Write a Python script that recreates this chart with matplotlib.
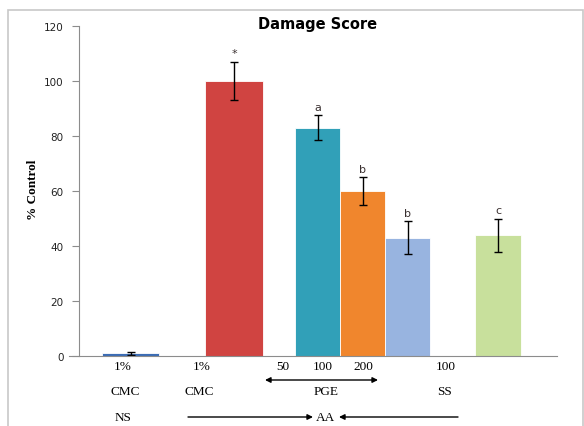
import matplotlib.pyplot as plt
from matplotlib.patches import Rectangle

# data
groups = ["NS", "CMC", "PGE50", "PGE100", "PGE200", "SS"]
values = [1, 100, 83, 60, 43, 44]
errors = [0.5, 7, 4.5, 5, 6, 6]
letters = ["", "*", "a", "b", "b", "c"]
dose_labels = ["1%", "1%", "50", "100", "200", "100"]
name_labels = ["CMC", "CMC", "PGE", "SS"]
yticks = [0, 20, 40, 60, 80, 100, 120]

# layout (1 unit = 45 px)
positions = [0, 2.3, 4.156, 5.156, 6.156, 8.167]
widths = [1.27, 1.27, 1, 1, 1, 1.02]
colors = ["#3B6CB4", "#D04441", "#31A0B8", "#F0862D", "#98B4E0", "#C8E09C"]

W, H = 584, 427
fig = plt.figure(figsize=(W / 100, H / 100), dpi=100)

def fx(px):
    return px / W

def fy(py):
    return 1 - py / H

# outer frame
fig.patches.append(Rectangle((fx(8), fy(440)), fx(575), fy(11) - fy(440),
                             transform=fig.transFigure, fill=False,
                             edgecolor="#c8c8c8", linewidth=1.2))

ax = fig.add_axes([fx(69), fy(357), fx(557) - fx(69), fy(27) - fy(357)])
ax.set_xlim(-1.367, 9.478)
ax.set_ylim(0, 120)

ax.bar(positions, values, width=widths, color=colors, edgecolor="white", linewidth=0.6)
ax.errorbar(positions, values, yerr=errors, fmt="none", ecolor="black",
            elinewidth=1, capsize=3, capthick=1)

for x, v, e, t in zip(positions, values, errors, letters):
    if t:
        ax.text(x, v + e + 1.2, t, ha="center", va="bottom", fontsize=8, color="#3a3030")

for s in ["top", "right"]:
    ax.spines[s].set_visible(False)
ax.spines["left"].set_position(("axes", 10 / 488))
ax.spines["left"].set_color("#8c8c8c")
ax.spines["bottom"].set_color("#8c8c8c")
ax.set_yticks(yticks)
ax.set_xticks([])
ax.tick_params(axis="y", length=5, color="#8c8c8c", labelsize=7.5, labelcolor="#222222", pad=6)

fig.text(fx(33), fy(190), "% Control", rotation=90, ha="center", va="center",
         family="Liberation Serif", fontweight="bold", fontsize=9.5)

fig.text(fx(318), fy(25), "Damage Score", ha="center", va="center",
         fontsize=10.5, fontweight="bold")

serif = dict(family="Liberation Serif", fontsize=9.5, ha="center", va="center")
for px, t in zip([123, 202, 283, 323, 363, 446], dose_labels):
    fig.text(fx(px), fy(367), t, **serif)
for px, t in zip([125, 199, 326, 445], name_labels):
    fig.text(fx(px), fy(392), t, **serif)
fig.text(fx(123), fy(418), "NS", **serif)
fig.text(fx(326), fy(418), "AA", **serif)

arrow = dict(arrowstyle="<|-|>", color="black", lw=1, mutation_scale=8,
             shrinkA=0, shrinkB=0)
ax.annotate("", xy=(fx(265), fy(381)), xytext=(fx(378), fy(381)),
            xycoords="figure fraction", textcoords="figure fraction",
            arrowprops=arrow, annotation_clip=False)
half = dict(arrowstyle="<|-", color="black", lw=1, mutation_scale=8, shrinkA=0, shrinkB=0)
ax.annotate("", xy=(fx(188), fy(418)), xytext=(fx(313), fy(418)),
            xycoords="figure fraction", textcoords="figure fraction",
            arrowprops=half, annotation_clip=False)
ax.annotate("", xy=(fx(458), fy(418)), xytext=(fx(339), fy(418)),
            xycoords="figure fraction", textcoords="figure fraction",
            arrowprops=half, annotation_clip=False)

fig.savefig("out.png", dpi=100)
